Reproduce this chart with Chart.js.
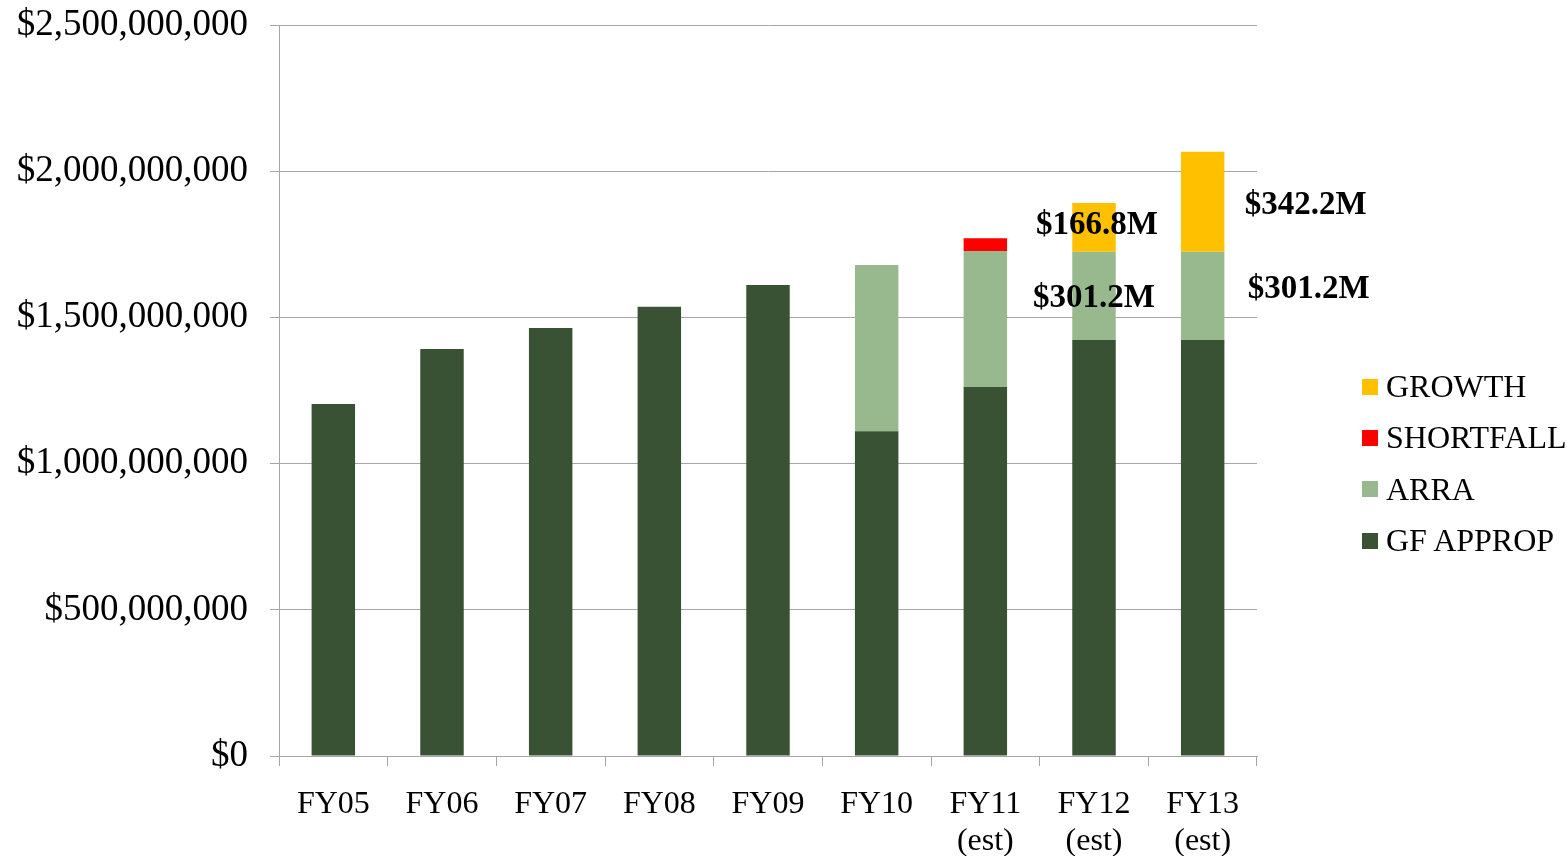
<!DOCTYPE html>
<html>
<head>
<meta charset="utf-8">
<script src="https://cdn.jsdelivr.net/npm/chart.js@4/dist/chart.umd.min.js"></script>
<style>
    body { margin: 0; background: #fff; }
    #wrap { position: relative; width: 1567px; height: 856px; }
    #legend { position: absolute; left: 1362px; top: 361px; font-family: 'Liberation Serif', 'Times New Roman', serif; font-size: 32px; color: #000; }
    #legend div { height: 51.3px; display: flex; align-items: center; }
    #legend span.box { width: 16px; height: 16px; margin-right: 8px; display: inline-block; }
</style>
</head>
<body>
<div id="wrap">
    <canvas id="fundingChart"></canvas>
    <div id="legend"></div>
</div>
<script>
// Values in millions of dollars
const categories = ['FY05', 'FY06', 'FY07', 'FY08', 'FY09', 'FY10',
    ['FY11', '(est)'], ['FY12', '(est)'], ['FY13', '(est)']];
const gfApprop = [1204, 1392, 1464, 1536, 1611, 1111, 1262, 1423, 1423];
const arra = [null, null, null, null, null, 568, 465, 301.2, 301.2];
const shortfall = [null, null, null, null, null, null, 44, null, null];
const growth = [null, null, null, null, null, null, null, 166.8, 342.2];
const yTicks = [0, 500, 1000, 1500, 2000, 2500];

const serif = "'Liberation Serif', 'Times New Roman', serif";

const data = {
    labels: categories,
    datasets: [
        { label: 'GF APPROP', data: gfApprop, backgroundColor: '#3A5234' },
        { label: 'ARRA', data: arra, backgroundColor: '#98B98E' },
        { label: 'SHORTFALL', data: shortfall, backgroundColor: '#FF0000' },
        { label: 'GROWTH', data: growth, backgroundColor: '#FFC000' }
    ]
};

// value labels next to FY12 / FY13 segments
const valueLabels = [
    { ds: 3, idx: 7, dx: 3, dy: -2 },
    { ds: 1, idx: 7, dx: 0, dy: 3 },
    { ds: 3, idx: 8, dx: 103, dy: 4 },
    { ds: 1, idx: 8, dx: 106, dy: -6 }
];

const labelPlugin = {
    id: 'valueLabels',
    afterDatasetsDraw(chart) {
        const ctx = chart.ctx;
        ctx.save();
        ctx.font = 'bold 33px ' + serif;
        ctx.fillStyle = '#000';
        ctx.textAlign = 'center';
        ctx.textBaseline = 'middle';
        valueLabels.forEach(function(l) {
            const bar = chart.getDatasetMeta(l.ds).data[l.idx];
            const v = chart.data.datasets[l.ds].data[l.idx];
            const y = (bar.y + bar.base) / 2;
            ctx.fillText('$' + v.toFixed(1) + 'M', bar.x + l.dx, y + l.dy);
        });
        ctx.restore();
    }
};

const config = {
    type: 'bar',
    data: data,
    plugins: [labelPlugin],
    options: {
        responsive: true,
        maintainAspectRatio: false,
        animation: false,
        layout: { padding: { top: 25, right: 310, left: 0, bottom: 0 } },
        plugins: {
            legend: { display: false },
            tooltip: { enabled: false }
        },
        datasets: {
            bar: { categoryPercentage: 1, barPercentage: 0.4 }
        },
        scales: {
            x: {
                stacked: true,
                grid: {
                    drawOnChartArea: false,
                    drawTicks: true,
                    tickLength: 10,
                    color: '#A6A6A6',
                    offset: true
                },
                border: { color: '#A6A6A6', width: 1 },
                ticks: {
                    color: '#000',
                    font: { family: serif, size: 32, lineHeight: 1.15 },
                    padding: 20,
                    maxRotation: 0,
                    autoSkip: false
                },
                afterFit: function(scale) { scale.height = 100; }
            },
            y: {
                stacked: true,
                min: 0,
                max: 2500,
                afterBuildTicks: function(scale) {
                    scale.ticks = yTicks.map(function(v) { return { value: v }; });
                },
                grid: { color: '#A6A6A6', tickLength: 9 },
                border: { color: '#A6A6A6', width: 1 },
                ticks: {
                    color: '#000',
                    font: { family: serif, size: 37 },
                    padding: 22,
                    callback: function(value) {
                        return '$' + (value * 1e6).toLocaleString('en-US');
                    }
                },
                afterFit: function(scale) {
                    scale.width = 279;
                    scale.paddingTop = 0;
                    scale.paddingBottom = 0;
                }
            }
        }
    }
};

const chart = new Chart(document.getElementById('fundingChart'), config);

// custom legend, reverse order like the original
const legend = document.getElementById('legend');
data.datasets.slice().reverse().forEach(function(ds) {
    const row = document.createElement('div');
    const box = document.createElement('span');
    box.className = 'box';
    box.style.background = ds.backgroundColor;
    row.appendChild(box);
    row.appendChild(document.createTextNode(ds.label));
    legend.appendChild(row);
});
</script>
</body>
</html>
